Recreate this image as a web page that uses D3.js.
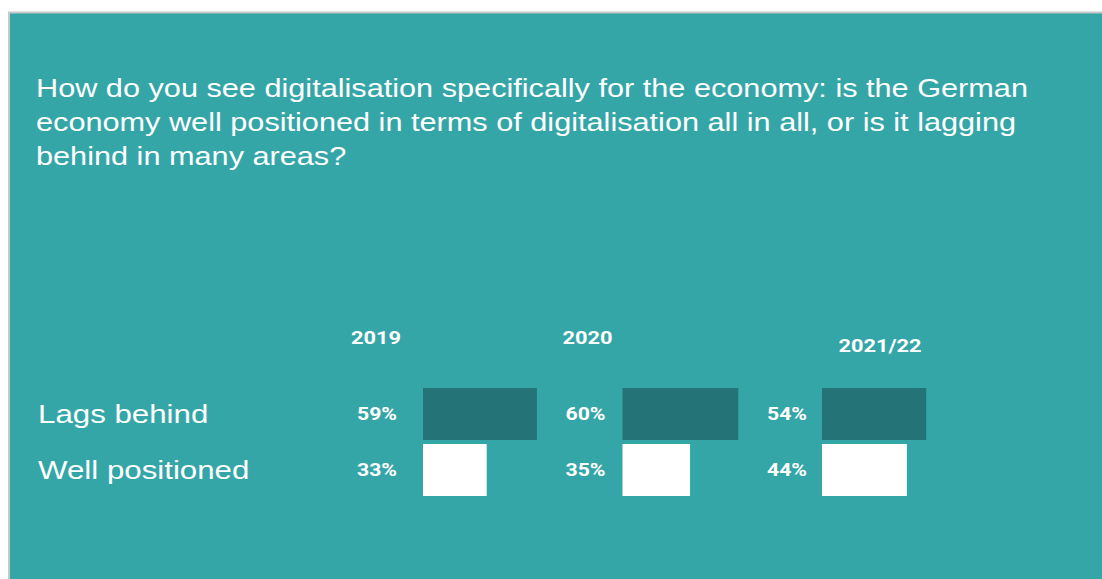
<!DOCTYPE html>
<html>
<head>
<meta charset="utf-8">
<script src="https://cdn.jsdelivr.net/npm/d3@7/dist/d3.min.js"></script>
<style>
  html, body { margin: 0; padding: 0; background: #ffffff; }
  svg { display: block; }
</style>
</head>
<body>
<svg id="chart" width="1102" height="579"></svg>
<script>
// Survey answers by wave (share of respondents, %)
const years = ["2019", "2020", "2021/22"];
const categories = ["Lags behind", "Well positioned"];
const lagsBehind = [59, 60, 54];
const wellPositioned = [33, 35, 44];
const titleLines = [
  "How do you see digitalisation specifically for the economy: is the German",
  "economy well positioned in terms of digitalisation all in all, or is it lagging",
  "behind in many areas?"
];

// Layout tweaks per wave column (label offsets relative to the column start)
const pctLabelDx = [-46, -37, -35];
const yearLabelDx = [-47, -35, 58];
const yearLabelY = [344, 344, 352];

const W = 1102, H = 579;
const teal = "#34a6a7";
const dark = "#247376";
const stretch = 1.18; // text is set slightly widened

const svg = d3.select("#chart");

// Helper: place text at (x, y) with the horizontal widening applied
const place = (x, y) => `translate(${x},${y}) scale(${stretch},1)`;

// Panel
svg.append("rect")
  .attr("x", 9).attr("y", 12.5)
  .attr("width", W).attr("height", H)
  .attr("fill", teal)
  .attr("stroke", "#c8c8c8").attr("stroke-width", 2);

// Title
svg.append("g").selectAll("text")
  .data(titleLines).join("text")
  .attr("transform", (d, i) => place(36, 97 + i * 34))
  .attr("fill", "#ffffff")
  .attr("font-family", "'Liberation Sans', Arial, sans-serif")
  .attr("font-size", 26)
  .text(d => d);

// Scales
const xCol = d3.scaleBand().domain(years).range([423, 423 + 3 * 199.5]);
const xLen = d3.scaleLinear().domain([0, 100]).range([0, 193]);
const yRow = d3.scaleBand().domain(categories).range([388, 496]).paddingInner(4 / 56);

const rows = [
  { cat: categories[0], values: lagsBehind, fill: dark },
  { cat: categories[1], values: wellPositioned, fill: "#ffffff" }
];

// Row labels
svg.append("g").selectAll("text")
  .data(categories).join("text")
  .attr("transform", d => place(38, yRow(d) + yRow.bandwidth() / 2 + 9))
  .attr("fill", "#ffffff")
  .attr("font-family", "'Liberation Sans', Arial, sans-serif")
  .attr("font-size", 26.5)
  .text(d => d);

// Year headers
svg.append("g").selectAll("text")
  .data(years).join("text")
  .attr("transform", (d, i) => place(xCol(d) + yearLabelDx[i], yearLabelY[i]))
  .attr("text-anchor", "middle")
  .attr("fill", "#ffffff")
  .attr("font-family", "Roboto, sans-serif")
  .attr("font-weight", 700)
  .attr("font-size", 18.5)
  .text(d => d);

// Bars and value labels
rows.forEach(row => {
  const g = svg.append("g");
  g.selectAll("rect")
    .data(row.values).join("rect")
    .attr("x", (d, i) => xCol(years[i]))
    .attr("y", yRow(row.cat))
    .attr("width", d => xLen(d))
    .attr("height", yRow.bandwidth())
    .attr("fill", row.fill);
  g.selectAll("text")
    .data(row.values).join("text")
    .attr("transform", (d, i) => place(xCol(years[i]) + pctLabelDx[i], yRow(row.cat) + yRow.bandwidth() / 2 + 6))
    .attr("text-anchor", "middle")
    .attr("fill", "#ffffff")
    .attr("font-family", "Roboto, sans-serif")
    .attr("font-weight", 700)
    .attr("font-size", 18)
    .text(d => d + "%");
});
</script>
</body>
</html>
